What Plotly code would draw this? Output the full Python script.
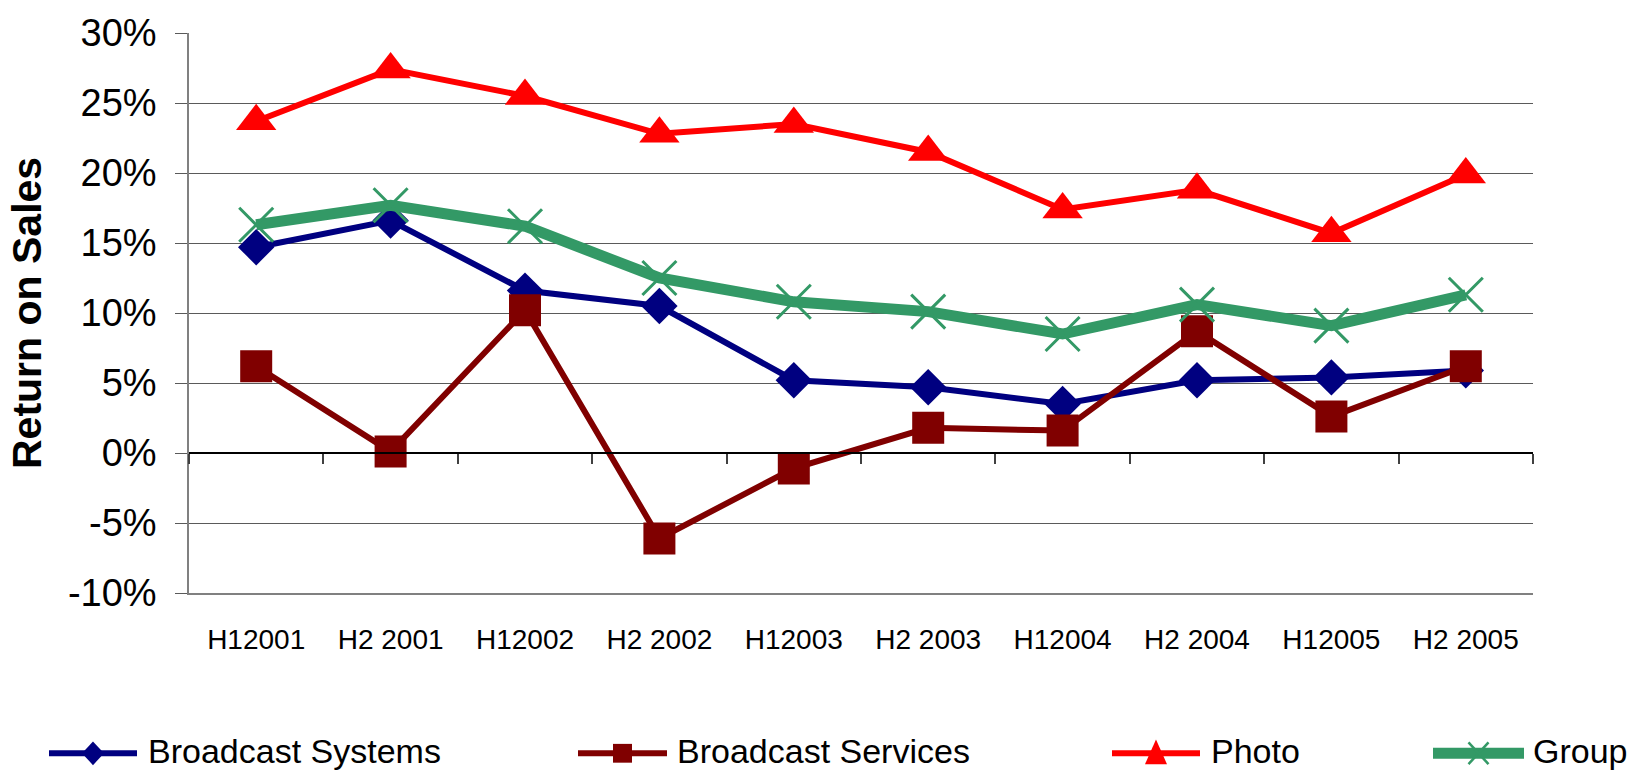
import plotly.graph_objects as go

# Half-year return on sales by division (%)
categories = ["H12001", "H2 2001", "H12002", "H2 2002", "H12003",
              "H2 2003", "H12004", "H2 2004", "H12005", "H2 2005"]
broadcast_systems = [14.7, 16.6, 11.6, 10.5, 5.2, 4.7, 3.5, 5.2, 5.4, 5.9]
broadcast_services = [6.2, 0.1, 10.2, -6.1, -1.1, 1.8, 1.6, 8.7, 2.6, 6.2]
photo = [23.7, 27.4, 25.5, 22.8, 23.5, 21.5, 17.4, 18.8, 15.7, 19.9]
group = [16.3, 17.7, 16.2, 12.5, 10.8, 10.1, 8.5, 10.6, 9.1, 11.3]

series_names = ["Broadcast Systems", "Broadcast Services", "Photo", "Group"]
y_ticks = [-10, -5, 0, 5, 10, 15, 20, 25, 30]

# Styling
W, H = 1633, 773
ML, MR, MT, MB = 189, 100, 27, 180
PW, PH = W - ML - MR, H - MT - MB
FONT = "Arial, Liberation Sans, sans-serif"

styles = [
    dict(color="#000080", width=6, symbol="diamond", size=28, lw=0),
    dict(color="#800000", width=6, symbol="square", size=32, lw=0),
    dict(color="#FF0000", width=6, symbol="triangle-up", size=35, lw=0),
    dict(color="#339966", width=11, symbol="x-thin", size=34, lw=3),
]
values = [broadcast_systems, broadcast_services, photo, group]

fig = go.Figure()
for name, vals, st in zip(series_names, values, styles):
    fig.add_trace(go.Scatter(
        x=categories, y=vals, name=name, mode="lines+markers",
        line=dict(color=st["color"], width=st["width"]),
        marker=dict(symbol=st["symbol"], size=st["size"], color=st["color"],
                    line=dict(color=st["color"], width=st["lw"])),
        showlegend=False, cliponaxis=False,
    ))

# Invisible carrier so the zero-line category axis gets its categories
fig.add_trace(go.Scatter(
    x=categories, y=group, xaxis="x2", mode="lines",
    line=dict(width=0), opacity=0, hoverinfo="skip", showlegend=False,
))


def px_x(px):
    return (px - ML) / PW


def px_y(py):
    return (H - MB - py) / PH


# Legend drawn below the plot: line sample, marker glyph, label
legend_line_x = [(49, 137), (578, 667), (1112, 1200), (1433, 1524)]
legend_text_x = [146, 675, 1209, 1531]
legend_y = 755
shapes = []
annotations = []


def marker_path(symbol, cx, cy):
    if symbol == "diamond":
        pts = [(cx, cy - 12), (cx + 11, cy), (cx, cy + 12), (cx - 11, cy)]
    elif symbol == "square":
        pts = [(cx - 9.5, cy - 9.5), (cx + 9.5, cy - 9.5),
               (cx + 9.5, cy + 9.5), (cx - 9.5, cy + 9.5)]
    else:
        pts = [(cx, cy - 14), (cx + 11, cy + 11), (cx - 11, cy + 11)]
    d = "M" + " L".join(f"{px_x(x):.5f},{px_y(y):.5f}" for x, y in pts) + " Z"
    return d


for name, st, (x0, x1), tx in zip(series_names, styles, legend_line_x, legend_text_x):
    shapes.append(dict(type="line", xref="paper", yref="paper",
                       x0=px_x(x0), x1=px_x(x1), y0=px_y(legend_y), y1=px_y(legend_y),
                       line=dict(color=st["color"], width=st["width"])))
    cx = (x0 + x1) / 2
    if st["symbol"] == "x-thin":
        for dx in (-1, 1):
            shapes.append(dict(type="line", xref="paper", yref="paper",
                               x0=px_x(cx - 10 * dx), x1=px_x(cx + 10 * dx),
                               y0=px_y(legend_y - 11), y1=px_y(legend_y + 11),
                               line=dict(color=st["color"], width=2.5)))
    else:
        shapes.append(dict(type="path", xref="paper", yref="paper",
                           path=marker_path(st["symbol"], cx, legend_y),
                           fillcolor=st["color"], line=dict(width=0)))
    annotations.append(dict(text=name, xref="paper", yref="paper",
                            x=px_x(tx), y=px_y(753), xanchor="left", yanchor="middle",
                            showarrow=False, font=dict(family=FONT, size=34, color="black")))

# Vertical axis title
annotations.append(dict(text="<b>Return on Sales</b>", xref="paper", yref="paper",
                        x=px_x(27), y=0.5, xanchor="center", yanchor="middle",
                        textangle=-90, showarrow=False,
                        font=dict(family=FONT, size=41, color="black")))

fig.update_layout(
    width=W, height=H,
    margin=dict(l=ML, r=MR, t=MT, b=MB, pad=0),
    paper_bgcolor="white", plot_bgcolor="white",
    font=dict(family=FONT, color="black"),
    xaxis=dict(
        type="category", range=[-0.5, len(categories) - 0.5],
        showgrid=False, zeroline=False,
        showline=True, linecolor="#808080", linewidth=2,
        ticks="", tickfont=dict(family=FONT, size=28, color="black"),
        ticklabelstandoff=20,
    ),
    xaxis2=dict(
        type="category", overlaying="x", matches="x", anchor="free",
        position=(0 - y_ticks[0]) / (y_ticks[-1] - y_ticks[0]),
        showgrid=False, zeroline=False, showticklabels=False,
        showline=True, linecolor="black", linewidth=1.5,
        ticks="outside", tickson="boundaries", ticklen=10,
        tickcolor="#404040", tickwidth=1.5,
    ),
    yaxis=dict(
        range=[y_ticks[0], y_ticks[-1]],
        tickvals=y_ticks, ticktext=[f"{v}%" for v in y_ticks],
        showgrid=True, gridcolor="#5a5a5a", gridwidth=1,
        zeroline=False,
        showline=True, linecolor="#808080", linewidth=1.5,
        ticks="outside", ticklen=12, tickcolor="#5a5a5a", tickwidth=1,
        tickfont=dict(family=FONT, size=38, color="black"),
        ticklabelstandoff=11,
    ),
    shapes=shapes,
    annotations=annotations,
)

fig.write_html("out.html")
